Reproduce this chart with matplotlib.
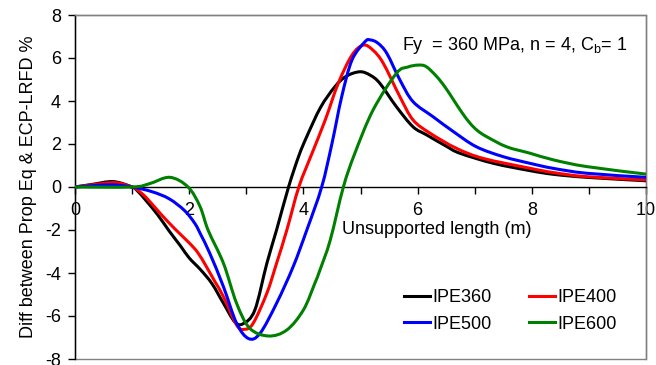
import matplotlib
matplotlib.use("Agg")
import matplotlib.pyplot as plt
from matplotlib.ticker import MultipleLocator
from matplotlib.patches import Rectangle, PathPatch
from matplotlib.path import Path
from matplotlib.lines import Line2D

plt.rcParams['font.family'] = ['Liberation Sans', 'DejaVu Sans']
plt.rcParams['mathtext.default'] = 'regular'
plt.rcParams['axes.unicode_minus'] = False

x_360 = [0, 0.3, 0.67, 1.0, 1.1, 1.25, 1.45, 1.65, 1.85, 2.0, 2.2, 2.4, 2.6, 2.8, 2.95, 3.15, 3.36, 3.53, 3.74, 3.92, 4.06, 4.3, 4.55, 4.75, 4.99, 5.17, 5.34, 5.63, 5.92, 6.16, 6.5, 6.74, 7.33, 7.97, 8.38, 8.96, 10]
y_360 = [0, 0.12, 0.25, 0.0, -0.2, -0.65, -1.3, -2.05, -2.75, -3.3, -3.85, -4.5, -5.41, -6.28, -6.35, -5.72, -3.55, -2.0, 0, 1.45, 2.35, 3.7, 4.66, 5.15, 5.36, 5.2, 4.82, 3.73, 2.80, 2.42, 1.9, 1.57, 1.10, 0.76, 0.59, 0.45, 0.29]

x_400 = [0, 0.3, 0.7, 1.0, 1.1, 1.25, 1.5, 1.75, 2.0, 2.15, 2.3, 2.45, 2.60, 2.83, 2.97, 3.12, 3.36, 3.53, 3.71, 3.92, 4.15, 4.38, 4.61, 4.85, 5.05, 5.22, 5.40, 5.69, 5.92, 6.22, 6.68, 7.15, 7.97, 8.38, 8.96, 10]
y_400 = [0, 0.1, 0.2, 0, -0.15, -0.5, -1.25, -1.95, -2.6, -3.05, -3.7, -4.4, -5.10, -6.42, -6.62, -6.34, -4.94, -3.55, -2.0, 0, 1.56, 3.1, 4.82, 6.13, 6.6, 6.36, 5.75, 4.2, 3.12, 2.5, 1.80, 1.33, 0.87, 0.67, 0.48, 0.33]

x_500 = [0, 0.6, 1.0, 1.35, 1.65, 1.92, 2.1, 2.2, 2.36, 2.60, 2.83, 3.04, 3.24, 3.53, 3.82, 4.06, 4.32, 4.50, 4.67, 4.85, 5.08, 5.17, 5.30, 5.46, 5.69, 5.92, 6.27, 6.63, 7.03, 7.50, 7.97, 8.37, 8.96, 10]
y_500 = [0, 0.1, 0.0, -0.22, -0.55, -1.1, -1.7, -2.2, -3.08, -4.64, -6.34, -7.05, -6.81, -5.41, -3.71, -2.0, 0, 2.02, 4.19, 5.9, 6.76, 6.84, 6.7, 6.22, 4.98, 3.97, 3.27, 2.57, 1.87, 1.41, 1.10, 0.87, 0.64, 0.45]

x_600 = [0, 1.0, 1.3, 1.66, 1.98, 2.19, 2.33, 2.60, 2.83, 3.06, 3.39, 3.71, 4.0, 4.20, 4.29, 4.47, 4.70, 4.90, 5.22, 5.63, 5.83, 6.01, 6.15, 6.33, 6.48, 6.63, 6.78, 6.92, 7.05, 7.21, 7.56, 7.97, 8.38, 8.96, 10]
y_600 = [0, 0, 0.15, 0.45, 0.0, -0.91, -2.0, -3.55, -5.41, -6.57, -6.93, -6.65, -5.72, -4.48, -3.86, -2.47, 0, 1.56, 3.58, 5.29, 5.58, 5.67, 5.6, 5.15, 4.65, 4.05, 3.45, 2.96, 2.62, 2.34, 1.87, 1.57, 1.26, 0.95, 0.60]

names = ["IPE360", "IPE400", "IPE500", "IPE600"]
colors = ["#000000", "#FF0000", "#0000FF", "#008000"]
xs_all = [x_360, x_400, x_500, x_600]
ys_all = [y_360, y_400, y_500, y_600]


def smooth_path(xs, ys):
    # Excel-style smoothed line: cubic Bezier through the data points
    pts = list(zip(xs, ys))
    n = len(pts)
    verts = [pts[0]]
    codes = [Path.MOVETO]
    for i in range(n - 1):
        p0 = pts[i - 1] if i > 0 else pts[i]
        p1 = pts[i]
        p2 = pts[i + 1]
        p3 = pts[i + 2] if i + 2 < n else pts[i + 1]
        c1 = (p1[0] + (p2[0] - p0[0]) / 6, p1[1] + (p2[1] - p0[1]) / 6)
        c2 = (p2[0] - (p3[0] - p1[0]) / 6, p2[1] - (p3[1] - p1[1]) / 6)
        verts += [c1, c2, p2]
        codes += [Path.CURVE4] * 3
    return Path(verts, codes)


fig = plt.figure(figsize=(6.56, 3.65), dpi=100)
ax = fig.add_axes([75/656, 1-359/365, 571/656, 344/365])

handles = []
for name, xs, ys, c in zip(names, xs_all, ys_all, colors):
    patch = PathPatch(smooth_path(xs, ys), facecolor='none', edgecolor=c, lw=2.2,
                      joinstyle='round', capstyle='round', transform=ax.transData, zorder=3)
    ax.add_patch(patch)
    handles.append(Line2D([], [], color=c, lw=2.2, label=name))

ax.set_xlim(0, 10)
ax.set_ylim(-8, 8)
ax.xaxis.set_major_locator(MultipleLocator(2))
ax.xaxis.set_minor_locator(MultipleLocator(1))
ax.yaxis.set_major_locator(MultipleLocator(2))

ax.spines['bottom'].set_position(('data', 0))
ax.spines['bottom'].set_color('black')
ax.spines['bottom'].set_linewidth(1.0)
ax.spines['left'].set_color('black')
ax.spines['left'].set_linewidth(1.0)
for s in ['top', 'right']:
    ax.spines[s].set_color('#808080')
    ax.spines[s].set_linewidth(1.0)
ax.add_patch(Rectangle((0, 0), 1, 1, transform=ax.transAxes, fill=False,
                       edgecolor='#808080', lw=1.0, clip_on=False, zorder=0))

ax.tick_params(axis='x', which='both', direction='out', length=5, width=1, labelsize=13, pad=6)
ax.tick_params(axis='y', which='major', direction='out', length=5, width=1, labelsize=13, pad=5)

ax.set_ylabel('Diff between Prop Eq & ECP-LRFD %', fontsize=13, labelpad=6)
ax.text(0.634, 0.375, 'Unsupported length (m)', transform=ax.transAxes,
        fontsize=13, ha='center', va='center')
ax.text(0.968, 0.91, 'Fy  = 360 MPa, n = 4, C$_{b}$= 1', transform=ax.transAxes,
        fontsize=13, ha='right', va='center')

order = [0, 2, 1, 3]
leg = ax.legend([handles[i] for i in order], [names[i] for i in order], ncol=2,
                loc='center', bbox_to_anchor=(0.762, 0.14), frameon=False,
                fontsize=13, handlelength=1.45, handletextpad=0.12, columnspacing=2.05,
                labelspacing=0.55, borderpad=0)

fig.savefig('out.png', dpi=100)
